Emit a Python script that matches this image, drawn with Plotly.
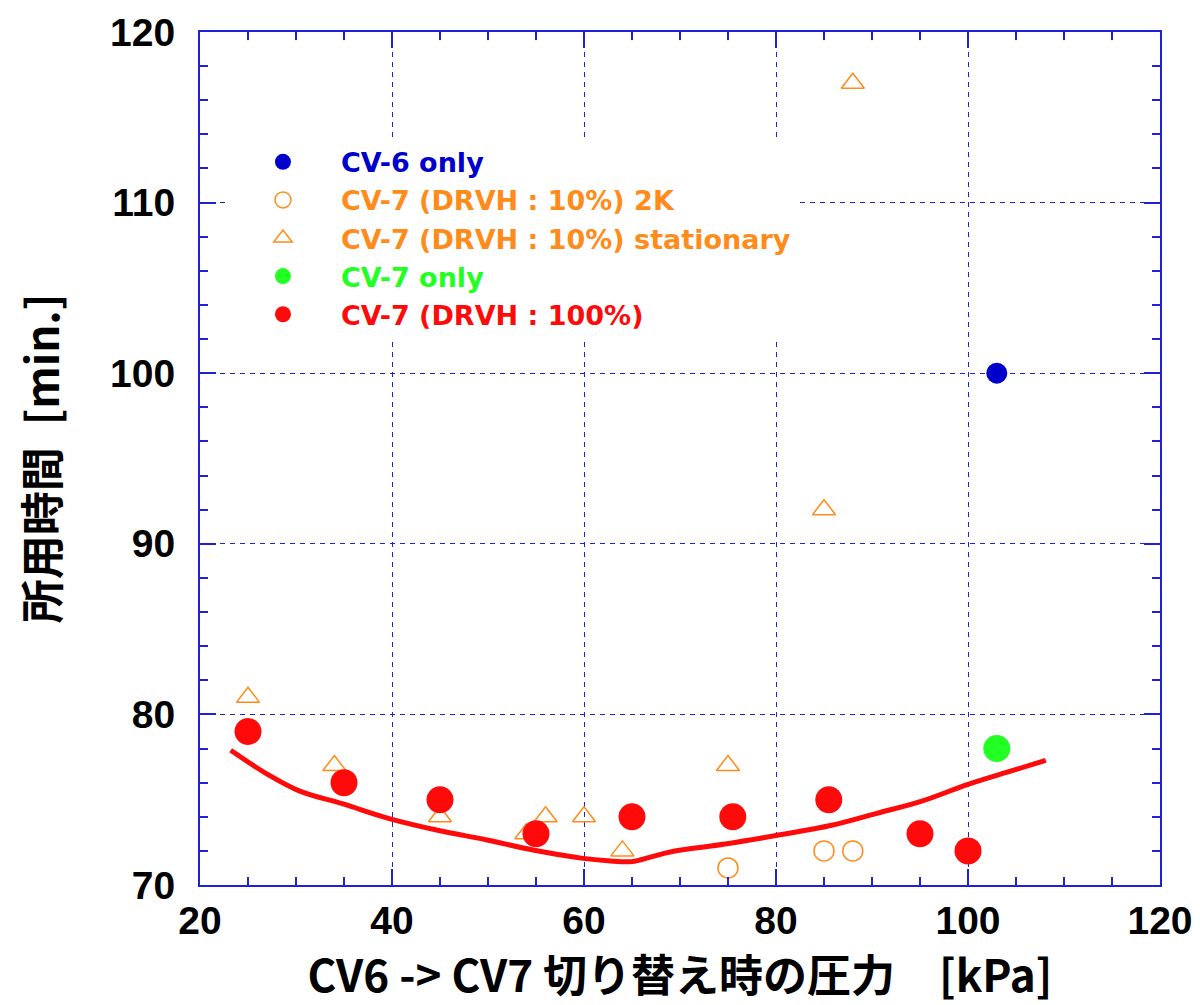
import plotly.graph_objects as go

# ---- data ----
cv6_x = [103]
cv6_y = [100]

cv7_2k_x = [75, 85, 88]
cv7_2k_y = [71, 72, 72]

cv7_st_x = [25, 34, 45, 54, 56, 60, 64, 75, 85, 88]
cv7_st_y = [81, 77, 74, 73, 74, 74, 72, 77, 92, 117]

cv7_only_x = [103]
cv7_only_y = [78]

cv7_100_x = [25, 35, 45, 55, 65, 75.5, 85.5, 95, 100]
cv7_100_y = [79, 76, 75, 73, 74, 74, 75, 73, 72]

fit_x = [23.2, 27, 30.4, 34.9, 40, 45, 49.9, 54.7, 59.9, 62.5, 65, 67, 69.1, 74.7, 80, 85.8, 90.5, 95.1, 100, 104, 108.1]
fit_y = [77.9, 76.5, 75.5, 74.75, 73.85, 73.18, 72.64, 72.05, 71.56, 71.42, 71.37, 71.65, 71.95, 72.4, 72.9, 73.5, 74.2, 74.9, 75.9, 76.6, 77.3]

names = [
    "CV-6 only",
    "CV-7 (DRVH : 10%) 2K",
    "CV-7 (DRVH : 10%) stationary",
    "CV-7 only",
    "CV-7 (DRVH : 100%)",
]

x_title = "CV6 -> CV7 切り替え時の圧力\u3000[kPa]"
y_title = "所用時間\u2002[min.]"

BLUE = "#0000cc"
ORANGE = "#ff8c1a"
GREEN = "#22ff22"
RED = "#ff0a0a"
AXIS = "#2020d8"
CJK = "Noto Sans CJK JP"
LEG = "DejaVu Sans, Noto Sans CJK JP"
NUM = "Liberation Sans, Arial"


def lname(text, color):
    return f"<span style='color:{color}'><b>{text}</b></span>"


fig = go.Figure()

fig.add_trace(go.Scatter(x=fit_x, y=fit_y, mode="lines", line=dict(color=RED, width=5, shape="spline"),
                         showlegend=False, hoverinfo="skip"))

fig.add_trace(go.Scatter(x=cv7_st_x, y=cv7_st_y, mode="markers", name=lname(names[2], ORANGE), legendrank=3,
                         marker=dict(symbol="triangle-up-open", size=20, color=ORANGE, line=dict(width=1.5, color=ORANGE))))
fig.add_trace(go.Scatter(x=cv7_2k_x, y=cv7_2k_y, mode="markers", name=lname(names[1], ORANGE), legendrank=2,
                         marker=dict(symbol="circle-open", size=20, color=ORANGE, line=dict(width=1.5, color=ORANGE))))
fig.add_trace(go.Scatter(x=cv7_100_x, y=cv7_100_y, mode="markers", name=lname(names[4], RED), legendrank=5,
                         marker=dict(symbol="circle", size=27, color=RED)))
fig.add_trace(go.Scatter(x=cv7_only_x, y=cv7_only_y, mode="markers", name=lname(names[3], GREEN), legendrank=4,
                         marker=dict(symbol="circle", size=27, color=GREEN)))
fig.add_trace(go.Scatter(x=cv6_x, y=cv6_y, mode="markers", name=lname(names[0], BLUE), legendrank=1,
                         marker=dict(symbol="circle", size=21, color=BLUE)))

axis_common = dict(
    showline=True, linecolor=AXIS, linewidth=2, mirror="allticks",
    ticks="inside", ticklen=16, tickwidth=1.5, tickcolor=AXIS,
    showgrid=True, gridcolor=AXIS, gridwidth=1, griddash="5px,5px",
    zeroline=False, automargin=False,
    tickfont=dict(family=NUM, size=39, color="black", weight="bold"),
)

fig.update_xaxes(
    range=[20, 120], tick0=20, dtick=20, ticklabelstandoff=0,
    minor=dict(dtick=5, ticks="inside", ticklen=8, tickcolor=AXIS, tickwidth=1.5, showgrid=False),
    title=dict(text=f"<b>{x_title}</b>", font=dict(family=CJK, size=44, color="black"), standoff=39),
    **axis_common,
)
fig.update_yaxes(
    range=[70, 120], tick0=70, dtick=10, ticklabelstandoff=15,
    minor=dict(dtick=2, ticks="inside", ticklen=8, tickcolor=AXIS, tickwidth=1.5, showgrid=False),
    title=dict(text=f"<b>{y_title}</b>", font=dict(family=CJK, size=44, color="black"), standoff=43),
    **axis_common,
)

fig.update_layout(
    width=1192, height=997,
    margin=dict(l=192, r=40, t=24, b=120, autoexpand=False),
    plot_bgcolor="white", paper_bgcolor="white",
    showlegend=True,
    legend=dict(x=0.026, y=0.876, xanchor="left", yanchor="top", bgcolor="white",
                font=dict(family=LEG, size=27), itemwidth=106, tracegroupgap=0,
                traceorder="normal"),
)

fig.write_html("out.html")
